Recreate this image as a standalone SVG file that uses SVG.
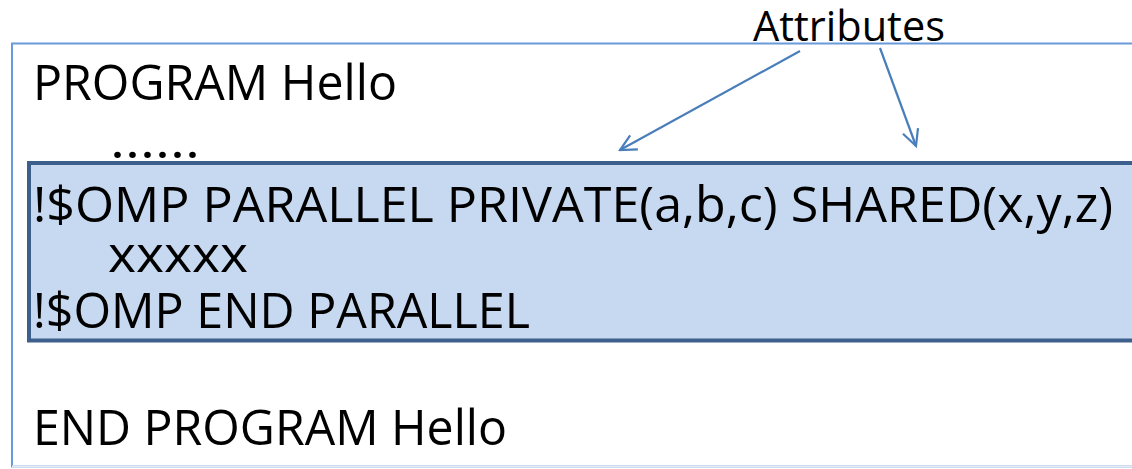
<svg xmlns="http://www.w3.org/2000/svg" width="1132" height="469" viewBox="0 0 1132 469">
  <style>
    .code { font-family: "Open Sans", "Noto Sans", "Liberation Sans", sans-serif; font-size: 49px; fill: #000; }
    .label { font-family: "Open Sans", "Noto Sans", "Liberation Sans", sans-serif; font-size: 42px; fill: #000; }
    .conn { stroke: #4a7ebb; stroke-width: 2.2; fill: none; }
  </style>
  <defs>
    <marker id="openArrow" viewBox="0 0 20 20" refX="18" refY="10" markerWidth="20" markerHeight="20" markerUnits="userSpaceOnUse" orient="auto">
      <path d="M2,2 L18,10 L2,18" fill="none" stroke="#4a7ebb" stroke-width="2.2"/>
    </marker>
  </defs>

  <rect width="1132" height="469" fill="#ffffff"/>

  <!-- program listing frame -->
  <g id="program">
    <rect x="12" y="43.5" width="1140" height="423" fill="#ffffff" stroke="#6a9ad8" stroke-width="2"/>
    <line x1="12" y1="466.5" x2="1132" y2="466.5" stroke="#e6ecf6" stroke-width="2"/>
    <text class="code" x="33" y="100" textLength="364" lengthAdjust="spacingAndGlyphs">PROGRAM Hello</text>
    <text class="code" x="110" y="158" textLength="90" lengthAdjust="spacingAndGlyphs">......</text>
    <text class="code" x="33" y="445" textLength="474" lengthAdjust="spacingAndGlyphs">END PROGRAM Hello</text>
  </g>

  <!-- highlighted parallel region -->
  <g id="parallel-region">
    <rect x="29" y="163" width="1120" height="177.5" fill="#c6d9f0" stroke="#3c5f8c" stroke-width="4"/>
    <text class="code" x="33" y="222" textLength="1080" lengthAdjust="spacingAndGlyphs">!$OMP PARALLEL PRIVATE(a,b,c) SHARED(x,y,z)</text>
    <text class="code" x="108" y="272" textLength="140" lengthAdjust="spacingAndGlyphs">xxxxx</text>
    <text class="code" x="33" y="328" textLength="497" lengthAdjust="spacingAndGlyphs">!$OMP END PARALLEL</text>
  </g>

  <!-- callout label -->
  <g id="attributes-label">
    <text class="label" x="753" y="41" textLength="192" lengthAdjust="spacingAndGlyphs">Attributes</text>
  </g>

  <!-- arrows from the label to the clauses -->
  <g id="connectors">
    <line class="conn" x1="800" y1="51" x2="620" y2="150" marker-end="url(#openArrow)"/>
    <line class="conn" x1="880" y1="48" x2="916" y2="146" marker-end="url(#openArrow)"/>
  </g>
</svg>
